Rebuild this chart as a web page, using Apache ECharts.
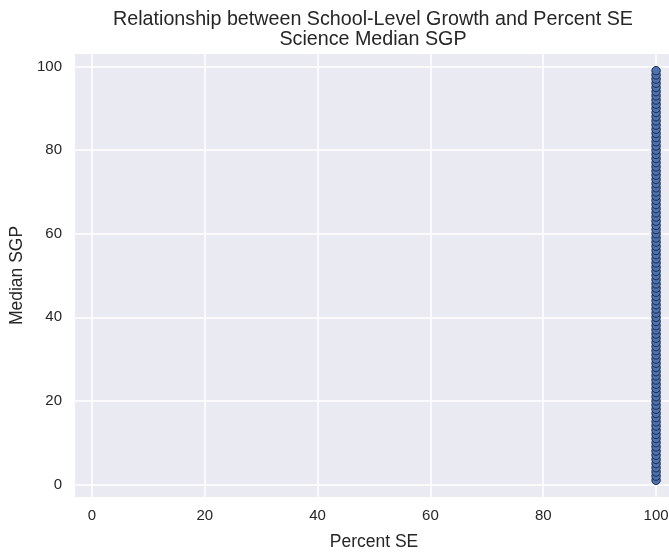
<!DOCTYPE html>
<html>
<head>
<meta charset="utf-8">
<script src="https://cdn.jsdelivr.net/npm/echarts@6/dist/echarts.min.js"></script>
<style>
  html, body { margin: 0; padding: 0; background: #fff; }
  #chart { width: 669px; height: 553px; }
</style>
</head>
<body>
<div id="chart"></div>
<script>
// Percent SE for every school (all at 100)
const percentSE = 100;
// Science median SGP per school
const medianSGP = [
  1, 2, 3, 4, 5, 6, 7, 8, 9, 10, 11, 12, 13, 14, 15, 16, 17, 18, 19, 20,
  21, 22, 23, 24, 25, 26, 27, 28, 29, 30, 31, 32, 33, 34, 35, 36, 37, 38, 39, 40,
  41, 42, 43, 44, 45, 46, 47, 48, 49, 50, 51, 52, 53, 54, 55, 56, 57, 58, 59, 60,
  61, 62, 63, 64, 65, 66, 67, 68, 69, 70, 71, 72, 73, 74, 75, 76, 77, 78, 79, 80,
  81, 82, 83, 84, 85, 86, 87, 88, 89, 90, 91, 92, 93, 94, 95, 96, 97, 98, 99
];
const xTicks = [0, 20, 40, 60, 80, 100];
const yTicks = [0, 20, 40, 60, 80, 100];

const FONT = 'Liberation Sans, Arial, sans-serif';
const TXT = '#262626';

const chart = echarts.init(document.getElementById('chart'), null, { renderer: 'canvas' });

const points = medianSGP.map(v => [percentSE, v]);

chart.setOption({
  animation: false,
  backgroundColor: '#ffffff',
  title: {
    text: 'Relationship between School-Level Growth and Percent SE\nScience Median SGP',
    left: 368,
    textAlign: 'center',
    top: 4,
    textStyle: { fontFamily: FONT, fontSize: 19.7, fontWeight: 'normal', color: TXT, lineHeight: 20.5 }
  },
  grid: {
    left: 75, top: 54, width: 598, height: 443,
    outerBoundsMode: 'none',
    show: true, backgroundColor: '#EAEAF2', borderWidth: 0
  },
  xAxis: {
    type: 'value',
    min: -3, max: 103,
    name: 'Percent SE',
    nameLocation: 'middle',
    nameGap: 36,
    nameTextStyle: { fontFamily: FONT, fontSize: 17.5, color: TXT },
    axisLine: { show: false },
    axisTick: { show: false, customValues: xTicks },
    axisLabel: { customValues: xTicks, fontFamily: FONT, fontSize: 15, color: TXT, margin: 11 },
    splitLine: { show: true, lineStyle: { color: '#ffffff', width: 1.5 } }
  },
  yAxis: {
    type: 'value',
    min: -3, max: 103,
    name: 'Median SGP',
    nameLocation: 'middle',
    nameGap: 49,
    nameTextStyle: { fontFamily: FONT, fontSize: 17.5, color: TXT },
    axisLine: { show: false },
    axisTick: { show: false, customValues: yTicks },
    axisLabel: { customValues: yTicks, fontFamily: FONT, fontSize: 15, color: TXT, margin: 13 },
    splitLine: { show: true, lineStyle: { color: '#ffffff', width: 1.5 } }
  },
  series: [{
    type: 'scatter',
    data: points,
    symbolSize: 8.5,
    itemStyle: { color: '#4C72B0', borderColor: '#1c2c4c', borderWidth: 1, opacity: 1 }
  }]
});
</script>
</body>
</html>
